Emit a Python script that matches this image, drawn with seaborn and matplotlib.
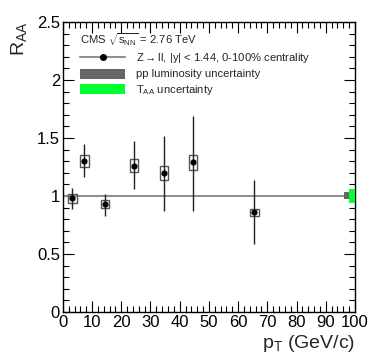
import matplotlib
matplotlib.use("Agg")
import matplotlib.pyplot as plt
import seaborn as sns
import pandas as pd
from matplotlib.patches import Rectangle, Patch
from matplotlib.lines import Line2D
from matplotlib.ticker import MultipleLocator

# ---- data ----
pt = [3.3, 7.4, 14.4, 24.4, 34.6, 44.6, 65.6]
raa = [0.98, 1.30, 0.93, 1.26, 1.20, 1.29, 0.86]
stat_up = [0.09, 0.145, 0.09, 0.21, 0.32, 0.40, 0.28]
stat_dn = [0.09, 0.14, 0.10, 0.20, 0.33, 0.42, 0.27]
syst = [0.037, 0.053, 0.033, 0.055, 0.059, 0.065, 0.03]
lumi_unc = 0.03
taa_unc = 0.057

sns.set_theme(style="ticks")
plt.rcParams['font.family'] = ['Liberation Sans', 'DejaVu Sans']
plt.rcParams['mathtext.fontset'] = 'custom'
plt.rcParams['mathtext.rm'] = 'Liberation Sans'
plt.rcParams['mathtext.it'] = 'Liberation Sans'
plt.rcParams['mathtext.sf'] = 'Liberation Sans'

fig = plt.figure(figsize=(3.74, 3.59), dpi=100)
ax = fig.add_axes([0.168, 0.131, 0.781, 0.808])

df = pd.DataFrame({"pt": pt, "raa": raa})

# reference line at 1
ax.axhline(1.0, color="#909090", lw=1.5, zorder=1)

# systematic boxes
hw = 1.4
for x, y, s in zip(pt, raa, syst):
    ax.add_patch(Rectangle((x - hw, y - s), 2 * hw, 2 * s, fill=False,
                           edgecolor="#555555", lw=1.0, zorder=2))

# stat errors
ax.errorbar(pt, raa, yerr=[stat_dn, stat_up], fmt="none", ecolor="#222222",
            elinewidth=1.0, capsize=0, zorder=3)

sns.scatterplot(data=df, x="pt", y="raa", ax=ax, color="black", s=20,
                edgecolor="black", linewidth=0, zorder=4, legend=False)

# global uncertainty boxes
ax.add_patch(Rectangle((96.2, 1 - lumi_unc), 2.0, 2 * lumi_unc,
                       facecolor="#666666", edgecolor="none", zorder=5))
ax.add_patch(Rectangle((98.0, 1 - taa_unc), 2.0, 2 * taa_unc,
                       facecolor="#00ff33", edgecolor="none", zorder=5))

ax.set_xlim(0, 100)
ax.set_ylim(0, 2.5)
ax.xaxis.set_major_locator(MultipleLocator(10))
ax.xaxis.set_minor_locator(MultipleLocator(2))
ax.yaxis.set_major_locator(MultipleLocator(0.5))
ax.yaxis.set_minor_locator(MultipleLocator(0.1))
ax.set_yticks([0, 0.5, 1, 1.5, 2, 2.5])
ax.set_yticklabels(["0", "0.5", "1", "1.5", "2", "2.5"])
ax.tick_params(which="both", direction="in", top=True, right=True,
               labelsize=12, colors="black", width=0.8)
ax.tick_params(which="major", length=8, pad=2)
ax.tick_params(which="minor", length=4)
for sp in ax.spines.values():
    sp.set_linewidth(1.0)
    sp.set_color("black")

ax.set_xlabel(r"p$_{\mathrm{T}}$ (GeV/c)", fontsize=14, loc="right", labelpad=2)
ax.set_ylabel(r"R$_{\mathrm{AA}}$", fontsize=14, loc="top", labelpad=6)

handles = [
    Line2D([], [], color="#909090", lw=1.5, marker="o", markersize=4,
           markerfacecolor="black", markeredgecolor="black"),
    Patch(facecolor="#666666", edgecolor="none"),
    Patch(facecolor="#00ff33", edgecolor="none"),
]
labels = [r"Z$\rightarrow$ll, |y| < 1.44, 0-100% centrality",
          "pp luminosity uncertainty",
          r"T$_{\mathrm{AA}}$ uncertainty"]
leg = ax.legend(handles, labels, loc="upper left", bbox_to_anchor=(0.06, 0.968),
                frameon=False, fontsize=8.1, handlelength=4.0, handleheight=1.0,
                handletextpad=0.95, labelspacing=0.3, borderpad=0,
                borderaxespad=0,
                title=r"CMS $\sqrt{s_{\mathrm{NN}}}$ = 2.76 TeV",
                title_fontsize=8.1, alignment="left")

fig.savefig("out.png", dpi=100)
